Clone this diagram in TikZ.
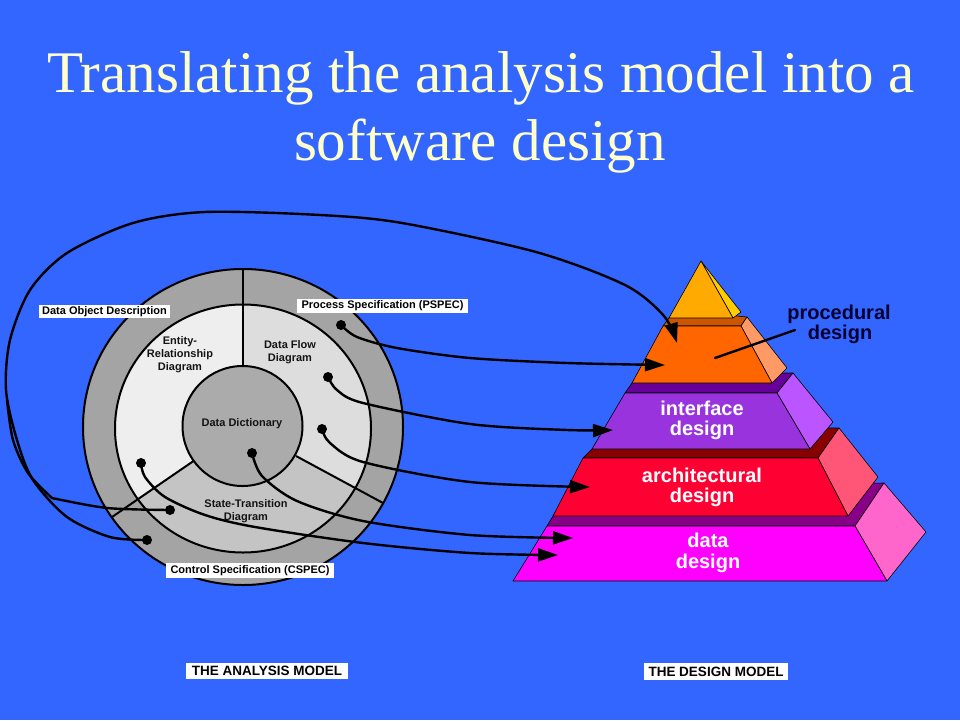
\documentclass[tikz,border=0pt]{standalone}
\usepackage{fontspec}
\setmainfont{Liberation Serif}
\newfontfamily\arialf{Liberation Sans}
\usetikzlibrary{arrows.meta}
\definecolor{bg}{HTML}{3366FF}
\definecolor{titlec}{HTML}{FFFFCC}
\definecolor{ringc}{HTML}{A4A4A4}
\definecolor{erc}{HTML}{EEEEEE}
\definecolor{dfdc}{HTML}{DDDDDD}
\definecolor{stdc}{HTML}{C4C4C4}
\definecolor{ddc}{HTML}{ABABAB}
\definecolor{topF}{HTML}{FFAA00}
\definecolor{topS}{HTML}{FFCC00}
\definecolor{orF}{HTML}{FF6600}
\definecolor{orL}{HTML}{CC5500}
\definecolor{orR}{HTML}{FF9966}
\definecolor{ifF}{HTML}{9933DD}
\definecolor{ifL}{HTML}{660099}
\definecolor{ifR}{HTML}{BB55FF}
\definecolor{arF}{HTML}{FF0033}
\definecolor{arL}{HTML}{880000}
\definecolor{arR}{HTML}{FF5577}
\definecolor{daF}{HTML}{FF00FF}
\definecolor{daL}{HTML}{880088}
\definecolor{daR}{HTML}{FF66CC}
\definecolor{procc}{HTML}{000033}
\begin{document}
\begin{tikzpicture}[x=1pt,y=-1pt,
  conn/.style={line width=2.4pt, black, line cap=round},
  arr/.style={line width=2.4pt, black, -{Triangle[length=20pt,width=13pt]}},
  dot/.style={circle, fill=black, minimum size=10pt, inner sep=0pt},
  lbl/.style={fill=white, inner sep=0pt, font=\arialf\bfseries\fontsize{11}{13}\selectfont, text=black},
  bigl/.style={fill=white, inner sep=0pt, font=\arialf\bfseries\fontsize{13.5}{15}\selectfont, text=black},
  ctext/.style={font=\arialf\bfseries\fontsize{11}{13}\selectfont, text=black!92, align=center},
  ptext/.style={font=\arialf\bfseries\fontsize{20}{21}\selectfont, text=white, anchor=base},
  face/.style={draw=black, line width=0.6pt, line join=round},
  ttl/.style={anchor=base, text=titlec, font=\fontsize{59}{68}\selectfont},
  ring/.style={line width=2pt, draw=black}
]
\fill[bg] (0,0) rectangle (960,720);
\useasboundingbox (0,0) rectangle (960,720);

% title
\node[ttl] (t1) at (481,92) {Translating the analysis model into a};
\node[ttl] (t2) at (480,160) {software design};

% analysis model circles
\filldraw[ring, fill=ringc] (243,427) ellipse [x radius=160, y radius=158];
\fill[stdc] (243,428.5) ellipse [x radius=128, y radius=124];
\begin{scope}
  \clip (243,428.5) ellipse [x radius=128, y radius=124];
  \fill[erc] (243,427) -- (243,100) -- (-100,100) -- (-100,597) -- (-4,597) -- cycle;
  \fill[dfdc] (243,427) -- (243,100) -- (600,100) -- (600,621) -- cycle;
\end{scope}
\draw[ring] (243,428.5) ellipse [x radius=128, y radius=124];
\draw[ring] (243,270) -- (243,367);
\draw[ring] (193.5,461) -- (112,517);
\draw[ring] (296,456) -- (383,503);
\filldraw[ring, fill=ddc] (242.5,426) circle [radius=60];

\node[ctext] (er) at (180,355) {Entity-\\Relationship\\Diagram};
\node[ctext] (dfd) at (290,352) {Data Flow\\Diagram};
\node[ctext] (dd) at (242,424) {Data Dictionary};
\node[ctext] (std) at (246,511) {State-Transition\\Diagram};

\node[lbl, minimum width=131pt, minimum height=13pt] (dod) at (104.5,311.5) {Data Object Description};
\node[lbl, minimum width=171pt, minimum height=14pt] (pspec) at (382.5,306) {Process Specification (PSPEC)};
\node[lbl, minimum width=168pt, minimum height=15pt] (cspec) at (250,570.5) {Control Specification (CSPEC)};

% pyramid: data
\filldraw[face, fill=daL] (547,526) -- (855,526) -- (884,483) -- (570,488) -- cycle;
\filldraw[face, fill=daR] (855,526) -- (884,483) -- (926,532) -- (887,581) -- cycle;
\filldraw[face, fill=daF] (547,526) -- (855,526) -- (887,581) -- (513,581) -- cycle;
% architectural
\filldraw[face, fill=arL] (583,458) -- (818,458) -- (839,428) -- (613,428) -- cycle;
\filldraw[face, fill=arR] (818,458) -- (839,428) -- (878,477) -- (848,516) -- cycle;
\filldraw[face, fill=arF] (583,458) -- (818,458) -- (848,516) -- (553,516) -- cycle;
% interface
\filldraw[face, fill=ifL] (625,393) -- (777,393) -- (793,373) -- (639,373) -- cycle;
\filldraw[face, fill=ifR] (777,393) -- (793,373) -- (833,422) -- (810,449) -- cycle;
\filldraw[face, fill=ifF] (625,393) -- (777,393) -- (810,449) -- (592,449) -- cycle;
% procedural
\filldraw[face, fill=orL] (663,326) -- (741,326) -- (747,317) -- (675,310) -- cycle;
\filldraw[face, fill=orR] (741,326) -- (747,317) -- (787,368) -- (772,383) -- cycle;
\filldraw[face, fill=orF] (663,326) -- (741,326) -- (772,383) -- (632,383) -- cycle;
% apex
\filldraw[face, fill=topS] (701,261) -- (741,312) -- (733,318) -- cycle;
\filldraw[face, fill=topF] (701,261) -- (733,318) -- (669,318) -- cycle;

\node[ptext] (if1) at (702,415) {interface};
\node[ptext] (if2) at (702,435) {design};
\node[ptext] (ar1) at (702,482) {architectural};
\node[ptext] (ar2) at (702,502) {design};
\node[ptext] (da1) at (708,547) {data};
\node[ptext] (da2) at (708,568) {design};
\node[ptext, text=procc] (pr1) at (839,319) {procedural};
\node[ptext, text=procc] (pr2) at (840,339) {design};

\coordinate (pl1) at (715,358);
\coordinate (pl2) at (795,330);
\draw[conn] (pl1) -- (pl2);

% dots
\node[dot] (dP) at (341,325) {};
\node[dot] (dF) at (328,377) {};
\node[dot] (dS) at (322,429) {};
\node[dot] (dD) at (252,453) {};
\node[dot] (dE) at (141,463) {};
\node[dot] (dA) at (170,510) {};
\node[dot] (dB) at (147,540) {};

% arrow tips
\coordinate (tTop) at (677,343);
\coordinate (tProc) at (665,365);
\coordinate (tIf) at (613,430);
\coordinate (tAr) at (590,487);
\coordinate (tDa1) at (573,538);
\coordinate (tDa2) at (558,555);
\coordinate (kA) at (52,498);

\draw[arr] plot[smooth] coordinates {(dP.center) (357,337) (397,348) (470,358) (567,363) (tProc)};
\draw[arr] plot[smooth] coordinates {(dF.center) (337,390) (363,403) (470,424) (567,430) (tIf)};
\draw[arr] plot[smooth] coordinates {(dS.center) (330,443) (363,462) (470,482) (tAr)};
\draw[arr] plot[smooth] coordinates {(dD.center) (262,476) (297,501) (363,521) (470,535) (tDa1)};
\draw[arr] plot[smooth] coordinates {(dE.center) (145,477) (165,497) (205,515) (255,527) (363,543) (470,553) (tDa2)};
\draw[arr] plot[smooth] coordinates {(dB.center) (110,537) (67,517) (33,480) (17,440) (6,390) (10,340) (30,290) (67,253) (133,223) (205,212) (320,215) (402,223) (536,252) (625,285) (664,316) (tTop)};
\draw[conn] plot[smooth] coordinates {(dA.center) (107,508) (kA)};
\draw[conn] plot[smooth] coordinates {(kA) (28,473) (13,440) (7,400)};

\node[bigl, minimum width=162pt, minimum height=16pt] (am) at (267,671) {THE ANALYSIS MODEL};
\node[bigl, minimum width=144pt, minimum height=17pt] (dm) at (716,671.5) {THE DESIGN MODEL};
\end{tikzpicture}
\end{document}
